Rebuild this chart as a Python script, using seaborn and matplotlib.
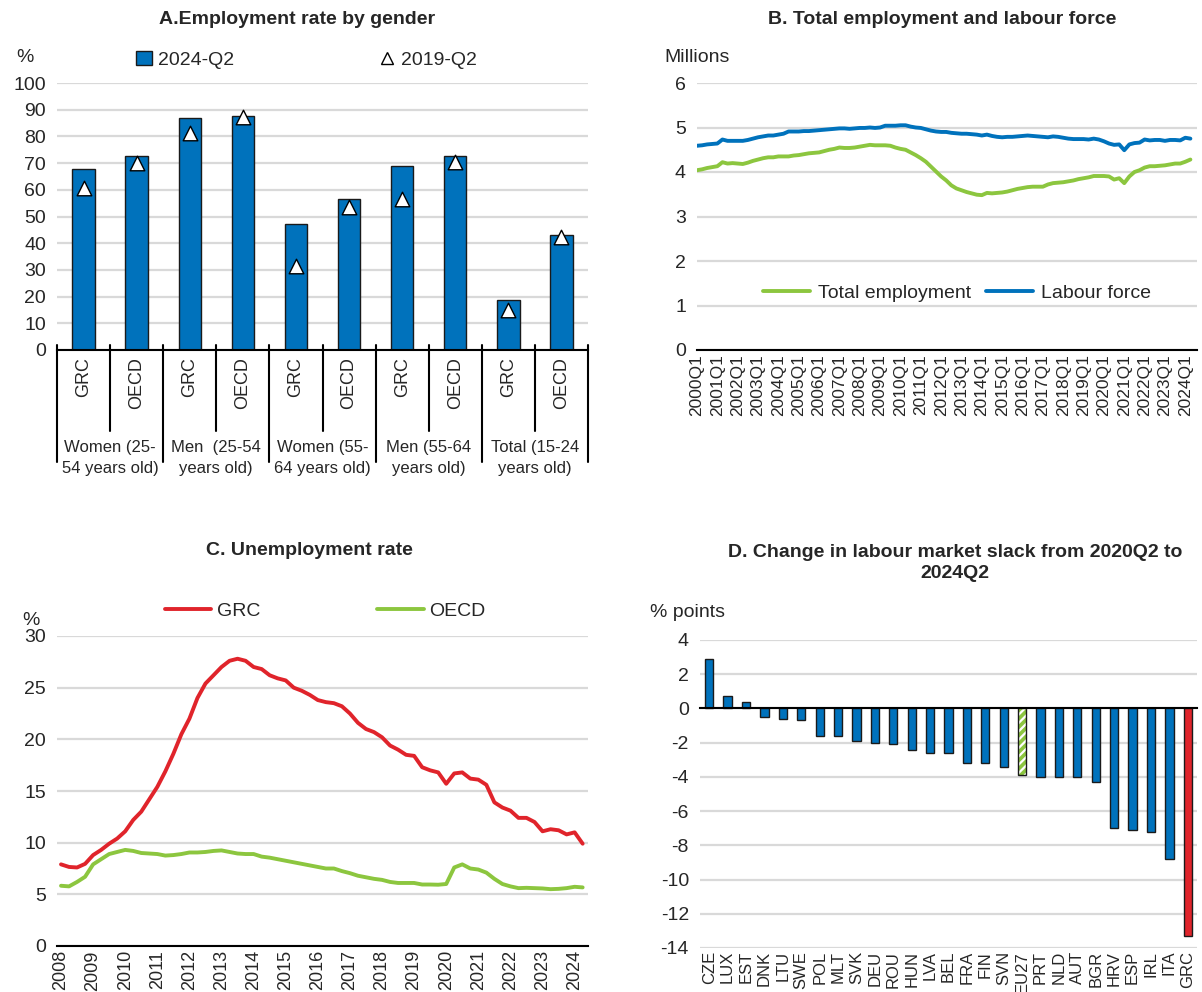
import numpy as np
import pandas as pd
import seaborn as sns
import matplotlib.pyplot as plt
import matplotlib.transforms as mtransforms
from matplotlib.patches import Patch, Rectangle
from matplotlib.lines import Line2D

sns.set_theme(style="white")
plt.rcParams['font.family'] = ['Liberation Sans Narrow', 'Liberation Sans', 'DejaVu Sans']
plt.rcParams['hatch.linewidth'] = 1.6
plt.rcParams['axes.unicode_minus'] = False

BLUE = '#0072BC'
GREEN = '#8CC63F'
RED = '#E0242B'
GRID = '#D9D9D9'
TICKFONT = ['Liberation Sans', 'DejaVu Sans']

# Panel A data
group_labels = ['Women (25-\n54 years old)', 'Men  (25-54\nyears old)', 'Women (55-\n64 years old)',
                'Men (55-64\nyears old)', 'Total (15-24\nyears old)']
area_labels = ['GRC', 'OECD'] * 5
emp_2024 = [67.9, 72.5, 86.9, 87.6, 47.1, 56.5, 68.8, 72.6, 18.6, 43.1]
emp_2019 = [60.6, 69.9, 81.2, 87.2, 31.6, 53.7, 56.6, 70.3, 15.0, 42.5]

# Panel B data (millions, 2000Q1 - 2024Q2)
years_b = list(range(2000, 2025))
labour_force = [
    4.59, 4.60, 4.62, 4.63,  4.64, 4.73, 4.70, 4.70,  4.70, 4.70, 4.72, 4.75,
    4.78, 4.80, 4.82, 4.82,  4.84, 4.86, 4.91, 4.91,  4.91, 4.92, 4.92, 4.93,
    4.94, 4.95, 4.96, 4.97,  4.98, 4.98, 4.97, 4.98,  4.99, 4.99, 5.00, 4.99,
    5.00, 5.04, 5.04, 5.04,  5.05, 5.05, 5.02, 5.00,  4.99, 4.96, 4.93, 4.91,
    4.90, 4.90, 4.88, 4.87,  4.86, 4.86, 4.85, 4.84,  4.82, 4.84, 4.81, 4.79,
    4.78, 4.79, 4.79, 4.80,  4.81, 4.82, 4.81, 4.80,  4.79, 4.78, 4.80, 4.79,
    4.77, 4.75, 4.74, 4.74,  4.74, 4.73, 4.75, 4.73,  4.69, 4.64, 4.61, 4.62,
    4.49, 4.62, 4.65, 4.66,  4.73, 4.71, 4.72, 4.72,  4.70, 4.72, 4.72, 4.71,
    4.77, 4.75]
employment = [
    4.04, 4.06, 4.09, 4.11,  4.13, 4.22, 4.19, 4.20,  4.19, 4.18, 4.21, 4.25,
    4.28, 4.31, 4.33, 4.33,  4.35, 4.35, 4.35, 4.37,  4.38, 4.40, 4.42, 4.43,
    4.44, 4.47, 4.50, 4.52,  4.55, 4.54, 4.54, 4.55,  4.57, 4.59, 4.61, 4.60,
    4.60, 4.60, 4.59, 4.55,  4.52, 4.50, 4.44, 4.38,  4.31, 4.23, 4.12, 4.01,
    3.90, 3.81, 3.70, 3.63,  3.59, 3.55, 3.52, 3.49,  3.48, 3.53, 3.52, 3.53,
    3.54, 3.56, 3.59, 3.62,  3.64, 3.66, 3.67, 3.67,  3.67, 3.72, 3.75, 3.76,
    3.77, 3.79, 3.81, 3.84,  3.86, 3.88, 3.91, 3.91,  3.91, 3.90, 3.83, 3.86,
    3.75, 3.90, 4.00, 4.04,  4.10, 4.13, 4.13, 4.14,  4.15, 4.17, 4.19, 4.19,
    4.23, 4.28]

# Panel C data (% , quarterly 2008Q1 - 2024Q2)
years_c = list(range(2008, 2025))
unemp_grc = [7.9, 7.65, 7.6, 7.95, 8.8, 9.3, 9.9, 10.4, 11.1, 12.2,
             13.0, 14.2, 15.4, 16.9, 18.6, 20.5, 22.0, 24.0, 25.4, 26.2,
             27.0, 27.6, 27.8, 27.6, 27.0, 26.8, 26.2, 25.9, 25.7, 25.0,
             24.7, 24.3, 23.8, 23.6, 23.5, 23.2, 22.5, 21.6, 21.0, 20.7,
             20.2, 19.4, 19.0, 18.5, 18.4, 17.3, 17.0, 16.8, 15.7, 16.7,
             16.8, 16.2, 16.1, 15.6, 13.9, 13.4, 13.1, 12.4, 12.4, 12.0,
             11.1, 11.3, 11.2, 10.8, 11.0, 9.9]
unemp_oecd = [5.83, 5.77, 6.2, 6.7, 7.9, 8.4, 8.9, 9.1, 9.3, 9.2,
              9.0, 8.95, 8.9, 8.75, 8.8, 8.9, 9.05, 9.05, 9.1, 9.2,
              9.25, 9.1, 8.95, 8.9, 8.9, 8.65, 8.55, 8.4, 8.25, 8.1,
              7.95, 7.8, 7.65, 7.5, 7.5, 7.25, 7.05, 6.8, 6.65, 6.5,
              6.4, 6.2, 6.1, 6.1, 6.1, 5.95, 5.95, 5.93, 6.0, 7.6,
              7.9, 7.5, 7.4, 7.1, 6.5, 6.0, 5.77, 5.6, 5.63, 5.6,
              5.57, 5.5, 5.53, 5.6, 5.73, 5.67]

# Panel D data (% points)
countries = ['CZE', 'LUX', 'EST', 'DNK', 'LTU', 'SWE', 'POL', 'MLT', 'SVK', 'DEU', 'ROU', 'HUN',
             'LVA', 'BEL', 'FRA', 'FIN', 'SVN', 'EU27', 'PRT', 'NLD', 'AUT', 'BGR', 'HRV', 'ESP',
             'IRL', 'ITA', 'GRC']
slack_change = [2.9, 0.7, 0.4, -0.5, -0.6, -0.7, -1.6, -1.6, -1.9, -2.0, -2.1, -2.4,
                -2.6, -2.6, -3.2, -3.2, -3.4, -3.9, -4.0, -4.0, -4.0, -4.3, -7.0, -7.1,
                -7.2, -8.8, -13.3]

W, H = 1202, 992
fig = plt.figure(figsize=(W / 100, H / 100), dpi=100)


def box(l, t, r, b):
    return [l / W, 1 - b / H, (r - l) / W, (b - t) / H]


def base_style(ax):
    for s in ['left', 'top', 'right']:
        ax.spines[s].set_visible(False)
    ax.spines['bottom'].set_color('black')
    ax.spines['bottom'].set_linewidth(1.5)
    ax.yaxis.grid(True, color=GRID, linewidth=1.6)
    ax.xaxis.grid(False)
    ax.set_axisbelow(True)
    ax.tick_params(axis='y', length=0, labelsize=14, pad=8)
    ax.set_xlabel('')
    ax.set_ylabel('')
    ax.set_facecolor('white')


# ---------------- Panel A ----------------
axA = fig.add_axes(box(57, 83, 588, 350))
pos = list(range(len(area_labels)))
dfA = pd.DataFrame({'pos': pos, 'v24': emp_2024, 'v19': emp_2019})
sns.barplot(data=dfA, x='pos', y='v24', color=BLUE, width=0.42, edgecolor='#1a1a1a',
            linewidth=1.0, saturation=1, ax=axA)
sns.scatterplot(data=dfA, x='pos', y='v19', marker='^', s=110, color='white',
                edgecolor='black', linewidth=1.0, zorder=5, ax=axA)
base_style(axA)
axA.set_ylim(0, 100)
axA.set_yticks(range(0, 101, 10))
axA.set_xlim(-0.5, 9.5)
axA.set_xticks(pos)
axA.set_xticklabels(area_labels, rotation=90, fontsize=13, family=TICKFONT, va='top')
axA.tick_params(axis='x', length=0, pad=5)
trA = mtransforms.blended_transform_factory(axA.transData, axA.transAxes)
for b in np.arange(-0.5, 10, 1.0):
    major = (b + 0.5) % 2 == 0
    axA.plot([b, b], [0.02, -0.42 if major else -0.305], color='black', lw=1.5,
             transform=trA, clip_on=False)
for g, lab in enumerate(group_labels):
    axA.text(2 * g + 0.5, -0.405, lab, transform=trA, ha='center', va='center',
             fontsize=12, linespacing=1.45)
axA.text(0.452, 1.236, 'A.Employment rate by gender', transform=axA.transAxes, ha='center',
         va='center', fontsize=14, weight='bold')
axA.text(-0.06, 1.094, '%', transform=axA.transAxes, ha='center', va='center', fontsize=14)
hA = [Patch(facecolor=BLUE, edgecolor='#1a1a1a', linewidth=1.0, label='2024-Q2'),
      Line2D([], [], ls='', marker='^', markersize=9, markerfacecolor='white',
             markeredgecolor='black', label='2019-Q2')]
axA.legend(handles=hA, ncol=2, loc='center', bbox_to_anchor=(0.47, 1.085), frameon=False,
           fontsize=14, columnspacing=7.5, handlelength=0.8, handletextpad=0.3)

# ---------------- Panel B ----------------
axB = fig.add_axes(box(697, 83, 1197, 350))
qB = list(range(len(labour_force)))
sns.lineplot(x=qB, y=employment, color=GREEN, linewidth=2.8, label='Total employment', ax=axB)
sns.lineplot(x=qB, y=labour_force, color=BLUE, linewidth=2.8, label='Labour force', ax=axB)
base_style(axB)
axB.set_ylim(0, 6)
axB.set_yticks(range(0, 7))
axB.set_xlim(0, 98.3)
axB.set_xticks(range(0, len(labour_force), 4))
axB.set_xticklabels([f'{y}Q1' for y in years_b], rotation=90, fontsize=12.5, family=TICKFONT)
axB.tick_params(axis='x', direction='in', length=6, width=1.3, color='black', pad=3)
axB.text(0.49, 1.236, 'B. Total employment and labour force', transform=axB.transAxes,
         ha='center', va='center', fontsize=14, weight='bold')
axB.text(0.0, 1.094, 'Millions', transform=axB.transAxes, ha='center', va='center', fontsize=14)
axB.legend(loc='center', bbox_to_anchor=(0.52, 0.213), ncol=2, frameon=False, fontsize=14,
           handlelength=2.4, handletextpad=0.4, columnspacing=0.8)

# ---------------- Panel C ----------------
axC = fig.add_axes(box(57, 636, 588, 946))
mC = [3 * i for i in range(len(unemp_grc))]
sns.lineplot(x=mC, y=unemp_grc, color=RED, linewidth=2.8, label='GRC', ax=axC)
sns.lineplot(x=mC, y=unemp_oecd, color=GREEN, linewidth=2.8, label='OECD', ax=axC)
base_style(axC)
axC.set_ylim(0, 30)
axC.set_yticks(range(0, 31, 5))
axC.set_xlim(-1.5, 197)
axC.set_xticks(range(0, 12 * len(years_c), 12))
axC.set_xticklabels([str(y) for y in years_c], rotation=90, fontsize=13, family=TICKFONT)
axC.set_xticks(range(0, 198, 2), minor=True)
axC.tick_params(axis='x', which='both', direction='in', length=6, width=1.2, color='black', pad=3)
axC.text(0.476, 1.277, 'C. Unemployment rate', transform=axC.transAxes, ha='center',
         va='center', fontsize=14, weight='bold')
axC.text(-0.05, 1.05, '%', transform=axC.transAxes, ha='center', va='center', fontsize=14)
axC.legend(loc='center', bbox_to_anchor=(0.505, 1.08), ncol=2, frameon=False, fontsize=14,
           handlelength=2.4, handletextpad=0.3, columnspacing=6)

# ---------------- Panel D ----------------
axD = fig.add_axes(box(700, 640, 1197, 948))
colors = [GREEN if c == 'EU27' else RED if c == 'GRC' else BLUE for c in countries]
sns.barplot(x=countries, y=slack_change, hue=countries, palette=colors, legend=False,
            width=0.45, edgecolor='#1a1a1a', linewidth=1.0, saturation=1, ax=axD)
base_style(axD)
axD.set_ylim(-14, 4)
axD.set_yticks(range(-14, 5, 2))
axD.set_xlim(-0.5, len(countries) - 0.5)
axD.spines['bottom'].set_position(('data', 0))
axD.set_xticks(np.arange(-0.5, len(countries), 1.0))
axD.set_xticklabels([])
axD.tick_params(axis='x', direction='in', length=6, width=1.3, color='black')
eu = axD.patches[countries.index('EU27')]
eu.set_facecolor(GREEN)
eu.set_edgecolor('white')
eu.set_linewidth(0)
eu.set_hatch('////')
axD.add_patch(Rectangle(eu.get_xy(), eu.get_width(), eu.get_height(), fill=False,
                        edgecolor='#1a1a1a', linewidth=1.0, zorder=eu.get_zorder() + 0.1))
secD = axD.secondary_xaxis('bottom')
secD.set_xticks(range(len(countries)))
secD.set_xticklabels(countries, rotation=90, fontsize=12, family=TICKFONT)
secD.tick_params(length=0, pad=2)
secD.spines['bottom'].set_visible(False)
axD.text(0.513, 1.25, 'D. Change in labour market slack from 2020Q2 to\n2024Q2',
         transform=axD.transAxes, ha='center', va='center', fontsize=14, weight='bold',
         linespacing=1.25)
axD.text(-0.026, 1.09, '% points', transform=axD.transAxes, ha='center', va='center',
         fontsize=14)

fig.savefig('out.png', dpi=100, facecolor='white')
